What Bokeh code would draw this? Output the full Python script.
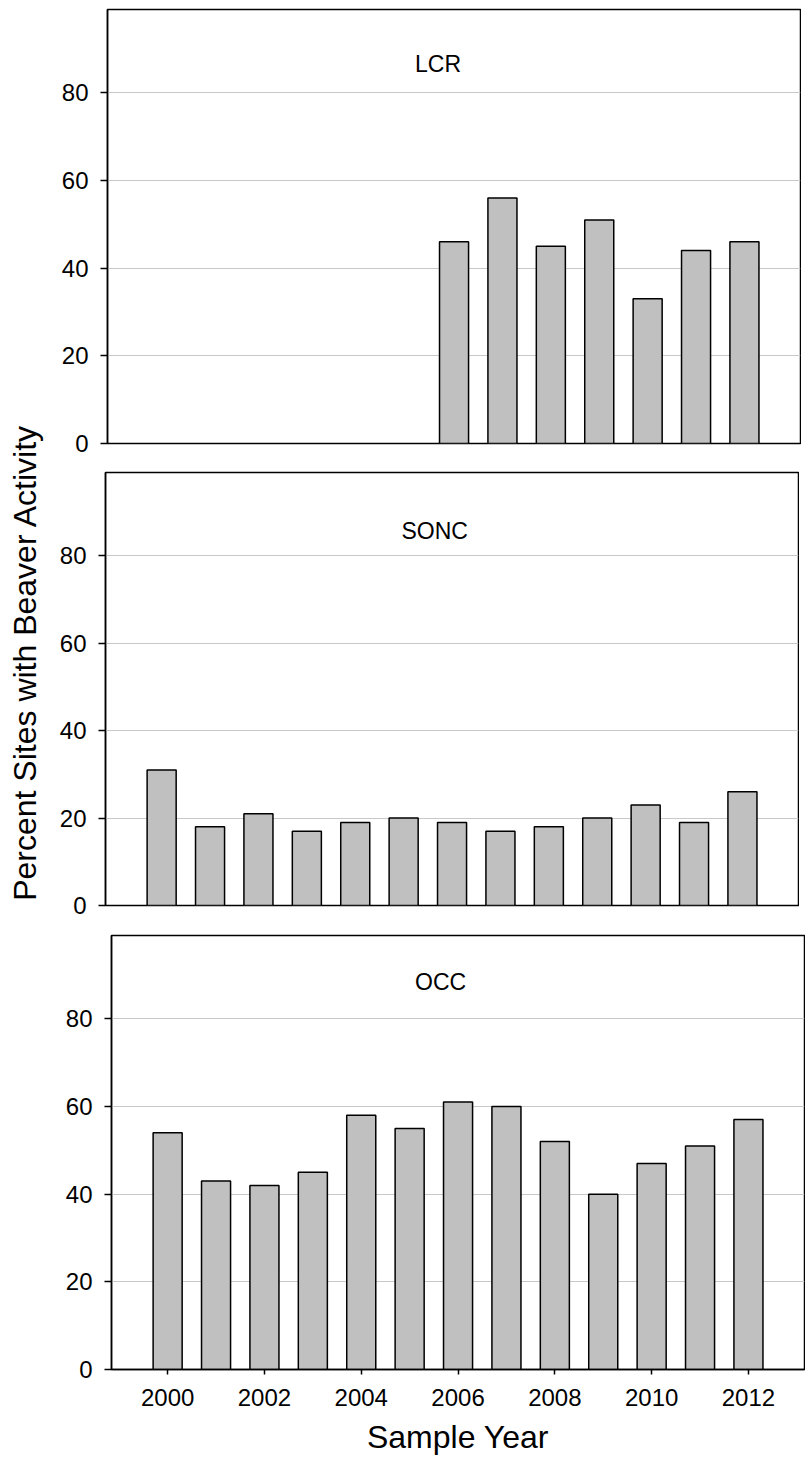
import math
from bokeh.plotting import figure
from bokeh.layouts import row, column
from bokeh.models import Range1d, FixedTicker, Label
from bokeh.embed import file_html
from bokeh.resources import INLINE
from bokeh.core.properties import value

# ---------------- data ----------------
years = list(range(2000, 2013))
lcr_years = list(range(2006, 2013))
lcr = [46, 56, 45, 51, 33, 44, 46]
sonc = [31, 18, 21, 17, 19, 20, 19, 17, 18, 20, 23, 19, 26]
occ = [54, 43, 42, 45, 58, 55, 61, 60, 52, 40, 47, 51, 57]
panel_names = ["LCR", "SONC", "OCC"]
y_ticks = [0, 20, 40, 60, 80]
x_ticks = [2000, 2002, 2004, 2006, 2008, 2010, 2012]
y_label = "Percent Sites with Beaver Activity"
x_label = "Sample Year"

# ---------------- layout / style ----------------
FONT = "Liberation Sans"
LAB_W = 50
BORDER_L = 55
BORDER_R = 1
FRAME_W = 693
PX_PER_YEAR = 48.4
X0 = 1998.84
Y_MAX = 99
TICK_FS = "24px"
NAME_FS = "23px"
TITLE_FS = "32px"

# (extra left shift, top border, frame height, bottom border, label x, label y)
specs = [
    (2, 9, 434, 14, 2005.67, 86.5),
    (0, 15, 433, 15, 2005.64, 85.7),
    (6, 15, 434, 90, 2005.64, 88.4),
]
series = [(lcr_years, lcr), (years, sonc), (years, occ)]

figs = []
for i, ((shift, top, fh, bottom, lx, ly), (xs, vals), name) in enumerate(
        zip(specs, series, panel_names)):
    last = i == 2
    p = figure(
        width=BORDER_L + FRAME_W + BORDER_R,
        height=top + fh + bottom,
        min_border_left=BORDER_L,
        min_border_right=BORDER_R,
        min_border_top=top,
        min_border_bottom=bottom,
        x_range=Range1d(X0, X0 + FRAME_W / PX_PER_YEAR),
        y_range=Range1d(0, Y_MAX),
        x_axis_location="below" if last else None,
        output_backend="svg",
        toolbar_location=None,
        styles={"margin-left": f"{shift}px"},
    )
    p.outline_line_color = "black"
    p.outline_line_width = 1.5
    p.xgrid.visible = False
    p.ygrid.ticker = FixedTicker(ticks=y_ticks)
    p.ygrid.grid_line_color = "#c8c8c8"
    p.ygrid.grid_line_width = 1

    p.yaxis.ticker = FixedTicker(ticks=y_ticks)
    p.yaxis.major_tick_out = 7
    p.yaxis.major_tick_in = 0
    p.yaxis.minor_tick_line_color = None
    p.yaxis.major_tick_line_color = "black"
    p.yaxis.major_tick_line_width = 1.5
    p.yaxis.axis_line_color = "black"
    p.yaxis.axis_line_width = 1.5
    p.yaxis.major_label_text_font = FONT
    p.yaxis.major_label_text_font_size = TICK_FS
    p.yaxis.major_label_text_color = "black"
    p.yaxis.major_label_standoff = 12

    if last:
        p.xaxis.ticker = FixedTicker(ticks=x_ticks)
        p.xaxis.major_tick_out = 5
        p.xaxis.major_tick_in = 0
        p.xaxis.minor_tick_line_color = None
        p.xaxis.major_tick_line_color = "black"
        p.xaxis.major_tick_line_width = 1.5
        p.xaxis.axis_line_color = "black"
        p.xaxis.axis_line_width = 1.5
        p.xaxis.major_label_text_font = FONT
        p.xaxis.major_label_text_font_size = TICK_FS
        p.xaxis.major_label_text_color = "black"
        p.xaxis.major_label_standoff = 14
        p.xaxis.axis_label = x_label
        p.xaxis.axis_label_text_font = FONT
        p.xaxis.axis_label_text_font_size = TITLE_FS
        p.xaxis.axis_label_text_font_style = "normal"
        p.xaxis.axis_label_text_color = "black"
        p.xaxis.axis_label_standoff = 10

    p.vbar(x=xs, top=vals, width=0.6, bottom=0,
           fill_color="#c0c0c0", line_color="black", line_width=1.5)

    p.add_layout(Label(x=lx, y=ly, text=name, text_align="center",
                       text_baseline="middle", text_font=FONT,
                       text_font_size=NAME_FS, text_color="black"))
    figs.append(p)

total_h = sum(s[1] + s[2] + s[3] for s in specs)

lab = figure(
    width=LAB_W, height=total_h,
    x_range=Range1d(0, LAB_W), y_range=Range1d(0, total_h),
    min_border=0, x_axis_location=None, y_axis_location=None,
    output_backend="svg", toolbar_location=None,
)
lab.outline_line_color = None
lab.grid.visible = False
lab.text(x=[24], y=[total_h - 662], text=[y_label], angle=math.pi / 2,
         text_align="center", text_baseline="middle",
         text_font=value(FONT), text_font_size=TITLE_FS, text_color="black")

layout = row(lab, column(*figs))

open("out.html", "w").write(file_html(layout, INLINE))
